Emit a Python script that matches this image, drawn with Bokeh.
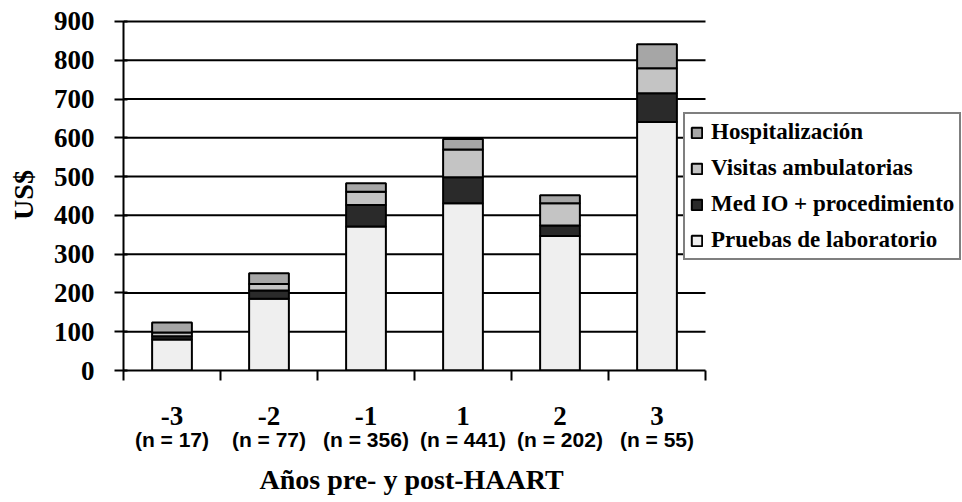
import numpy as np
from bokeh.plotting import figure
from bokeh.models import (ColumnDataSource, Range1d, LinearAxis, FixedTicker,
                          Legend, LegendItem, Title)
from bokeh.embed import file_html
from bokeh.resources import INLINE

# ---- data ----
categories = ["-3", "-2", "-1", "1", "2", "3"]
n_labels = ["(n = 17)", "(n = 77)", "(n = 356)", "(n = 441)", "(n = 202)", "(n = 55)"]
series = ["Pruebas de laboratorio", "Med IO + procedimiento",
          "Visitas ambulatorias", "Hospitalización"]
lab = [80, 185, 371, 431, 347, 641]
med = [8, 21, 56, 67, 27, 74]
vis = [10, 17, 34, 72, 57, 64]
hosp = [26, 28, 22, 27, 21, 62]
y_ticks = [0, 100, 200, 300, 400, 500, 600, 700, 800, 900]

colors = ["#EFEFEF", "#2A2A2A", "#C4C4C4", "#A6A6A6"]
SERIF = "Liberation Serif"
SANS = "Liberation Sans"

n = len(categories)
x = np.arange(n) + 0.5
src = ColumnDataSource(dict(x=x, lab=lab, med=med, vis=vis, hosp=hosp))

W, H = 962, 502
LEFT, TOP = 123, 19
FRAME_BOTTOM = 370
UNIT = 97.0

p = figure(width=W, height=H, output_backend="svg", toolbar_location=None,
           x_range=Range1d(0, (W - LEFT) / UNIT), y_range=Range1d(0, 905),
           x_axis_location=None,
           min_border_left=LEFT, min_border_right=0,
           min_border_top=TOP, min_border_bottom=H - FRAME_BOTTOM)
p.outline_line_color = None
p.grid.visible = False
p.background_fill_color = "white"
p.border_fill_color = "white"

# horizontal gridlines across the category span only
g = y_ticks[1:]
p.segment(x0=[0] * len(g), x1=[n] * len(g), y0=g, y1=g,
          line_color="black", line_width=2)

rs = p.vbar_stack(["lab", "med", "vis", "hosp"], x="x", width=0.41, source=src,
                  fill_color=colors, line_color="black", line_width=2)

# y axis
ya = p.yaxis[0]
ya.ticker = FixedTicker(ticks=y_ticks)
ya.bounds = (0, 900)
ya.axis_line_width = 2
ya.major_tick_line_width = 2
ya.major_tick_out = 9
ya.major_tick_in = 4
ya.minor_tick_line_color = None
ya.major_label_text_font = SERIF
ya.major_label_text_font_style = "bold"
ya.major_label_text_font_size = "27px"
ya.major_label_text_color = "black"
ya.major_label_standoff = 20
ya.axis_label = "US$"
ya.axis_label_text_font = SERIF
ya.axis_label_text_font_style = "bold"
ya.axis_label_text_font_size = "28px"
ya.axis_label_text_color = "black"
ya.axis_label_standoff = 12

# x axis: line, boundary ticks, category labels
xa = LinearAxis(ticker=FixedTicker(ticks=list(x), minor_ticks=list(range(n + 1))),
                bounds=(0, n))
xa.major_label_overrides = {float(v): c for v, c in zip(x, categories)}
xa.axis_line_width = 2
xa.major_tick_out = 0
xa.major_tick_in = 0
xa.minor_tick_out = 10
xa.minor_tick_in = 0
xa.minor_tick_line_width = 2
xa.major_label_text_font = SERIF
xa.major_label_text_font_style = "bold"
xa.major_label_text_font_size = "27px"
xa.major_label_text_color = "black"
xa.major_label_standoff = 26
p.add_layout(xa, "below")

# second axis: sample sizes
xb = LinearAxis(ticker=FixedTicker(ticks=list(x), minor_ticks=[]), bounds=(0, n))
xb.major_label_overrides = {float(v): t for v, t in zip(x, n_labels)}
xb.axis_line_color = None
xb.major_tick_line_color = None
xb.minor_tick_line_color = None
xb.major_tick_out = 0
xb.major_tick_in = 0
xb.major_label_text_font = SANS
xb.major_label_text_font_style = "bold"
xb.major_label_text_font_size = "21px"
xb.major_label_text_color = "black"
xb.major_label_standoff = 0
p.add_layout(xb, "below")

# x axis title, centred under the category span
xt = Title(text="Años pre- y post-HAART", align="left", offset=136, standoff=16,
           text_font=SERIF, text_font_style="bold", text_font_size="28px",
           text_color="black")
p.add_layout(xt, "below")

items = [LegendItem(label=s, renderers=[r]) for s, r in zip(series, rs)][::-1]
legend = Legend(items=items, location=(560, 110),
                glyph_width=13, glyph_height=13, label_height=26, spacing=10,
                padding=5, margin=0, label_standoff=8,
                label_text_font=SERIF, label_text_font_style="bold",
                label_text_font_size="23px", label_text_color="black",
                border_line_color="black", border_line_width=2,
                background_fill_color="white", background_fill_alpha=1.0)
p.add_layout(legend, "center")

open("out.html", "w").write(file_html(p, INLINE))
